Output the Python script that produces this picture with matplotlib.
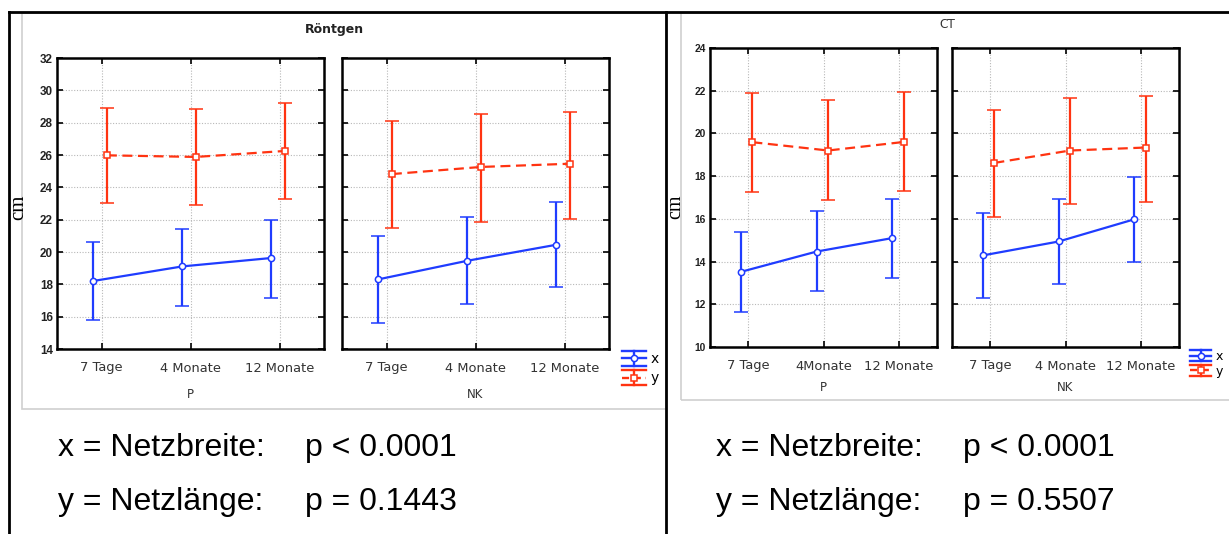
import matplotlib
matplotlib.use("Agg")
import matplotlib.pyplot as plt
from matplotlib.lines import Line2D
from matplotlib.patches import Rectangle
from matplotlib.legend_handler import HandlerBase

# ---------------- data ----------------
categories_rtg = ["7 Tage", "4 Monate", "12 Monate"]
categories_ct_p = ["7 Tage", "4Monate", "12 Monate"]
categories_ct_nk = ["7 Tage", "4 Monate", "12 Monate"]
groups = ["P", "NK"]

# Röntgen
rtg_p_x_mean = [18.21, 19.11, 19.63]
rtg_p_x_low = [15.77, 16.64, 17.18]
rtg_p_x_high = [20.60, 21.44, 21.98]
rtg_p_y_mean = [25.98, 25.88, 26.25]
rtg_p_y_low = [23.01, 22.89, 23.26]
rtg_p_y_high = [28.93, 28.85, 29.20]

rtg_nk_x_mean = [18.31, 19.46, 20.45]
rtg_nk_x_low = [15.63, 16.80, 17.81]
rtg_nk_x_high = [20.97, 22.14, 23.11]
rtg_nk_y_mean = [24.82, 25.26, 25.46]
rtg_nk_y_low = [21.48, 21.88, 22.04]
rtg_nk_y_high = [28.08, 28.52, 28.68]

# CT
ct_p_x_mean = [13.52, 14.47, 15.10]
ct_p_x_low = [11.66, 12.61, 13.25]
ct_p_x_high = [15.38, 16.37, 16.95]
ct_p_y_mean = [19.59, 19.20, 19.60]
ct_p_y_low = [17.26, 16.88, 17.31]
ct_p_y_high = [21.90, 21.56, 21.94]

ct_nk_x_mean = [14.29, 14.94, 15.98]
ct_nk_x_low = [12.30, 12.94, 13.99]
ct_nk_x_high = [16.29, 16.93, 17.96]
ct_nk_y_mean = [18.62, 19.20, 19.34]
ct_nk_y_low = [16.10, 16.71, 16.79]
ct_nk_y_high = [21.12, 21.65, 21.76]

rtg_yticks = [14, 16, 18, 20, 22, 24, 26, 28, 30, 32]
ct_yticks = [10, 12, 14, 16, 18, 20, 22, 24]

stats_left = [("x = Netzbreite:", "p < 0.0001"), ("y = Netzlänge:", "p = 0.1443")]
stats_right = [("x = Netzbreite:", "p < 0.0001"), ("y = Netzlänge:", "p = 0.5507")]

BLUE = "#1f3cff"
RED = "#ff3311"

W, H = 1229, 534
fig = plt.figure(figsize=(W / 100, H / 100), dpi=100)


def fx(px):
    return px / W


def fy(py):
    return 1 - py / H


def make_ax(x0, x1, y0, y1):
    return fig.add_axes([fx(x0), fy(y1), fx(x1 - x0), (y1 - y0) / H])


def draw_panel(ax, cats, xm, xl, xh, ym, yl, yh, yticks, ylim, show_ylabels,
               ytick_fs, group, glabel_pad):
    pos = list(range(len(cats)))
    pos_x = [p - 0.09 for p in pos]
    pos_y = [p + 0.06 for p in pos]
    err_x = [[m - l for m, l in zip(xm, xl)], [h - m for m, h in zip(xm, xh)]]
    err_y = [[m - l for m, l in zip(ym, yl)], [h - m for m, h in zip(ym, yh)]]
    ax.errorbar(pos_x, xm, yerr=err_x, color=BLUE, lw=1.6, elinewidth=1.6,
                capsize=5, capthick=1.6, marker="o", ms=4.5, mfc="white",
                mec=BLUE, mew=1.1, zorder=3)
    eb = ax.errorbar(pos_y, ym, yerr=err_y, color=RED, lw=1.6, elinewidth=1.6,
                     capsize=5, capthick=1.6, marker="s", ms=4.5, mfc="white",
                     mec=RED, mew=1.1, zorder=3)
    eb[0].set_linestyle((0, (4.5, 2.5)))
    ax.set_xlim(-0.5, len(cats) - 0.5)
    ax.set_ylim(*ylim)
    ax.set_yticks(yticks)
    ax.set_xticks(pos)
    ax.set_xticklabels(cats, fontsize=9.4, color="#333333", family="DejaVu Sans")
    if show_ylabels:
        ax.set_yticklabels([str(t) for t in yticks], fontsize=ytick_fs,
                           family="Liberation Sans", fontweight="bold",
                           color="#222222")
    else:
        ax.set_yticklabels([])
    ax.tick_params(direction="in", length=4, width=1.2, top=True, right=True,
                   pad=9)
    ax.tick_params(axis="y", pad=3)
    ax.grid(True, color="#b8b8b8", linestyle=(0, (1, 1.5)), lw=0.8)
    for s in ax.spines.values():
        s.set_linewidth(1.8)
    ax.set_xlabel(group, fontsize=8.5, color="#333333", labelpad=glabel_pad)


# ---------------- Röntgen ----------------
ax1 = make_ax(57, 324, 58, 349)
draw_panel(ax1, categories_rtg, rtg_p_x_mean, rtg_p_x_low, rtg_p_x_high,
           rtg_p_y_mean, rtg_p_y_low, rtg_p_y_high, rtg_yticks, (14, 32),
           True, 8.4, groups[0], 10)
ax2 = make_ax(342, 609, 58, 349)
draw_panel(ax2, categories_rtg, rtg_nk_x_mean, rtg_nk_x_low, rtg_nk_x_high,
           rtg_nk_y_mean, rtg_nk_y_low, rtg_nk_y_high, rtg_yticks, (14, 32),
           False, 8.4, groups[1], 10)

# ---------------- CT ----------------
ax3 = make_ax(710, 937, 48, 347)
draw_panel(ax3, categories_ct_p, ct_p_x_mean, ct_p_x_low, ct_p_x_high,
           ct_p_y_mean, ct_p_y_low, ct_p_y_high, ct_yticks, (10, 24),
           True, 7.4, groups[0], 6)
ax4 = make_ax(952, 1179, 48, 347)
draw_panel(ax4, categories_ct_nk, ct_nk_x_mean, ct_nk_x_low, ct_nk_x_high,
           ct_nk_y_mean, ct_nk_y_low, ct_nk_y_high, ct_yticks, (10, 24),
           False, 7.4, groups[1], 6)

# titles and y labels
fig.text(fx(334), fy(30), "Röntgen", ha="center", va="center", fontsize=9,
         fontweight="bold", color="#222222")
fig.text(fx(947), fy(25), "CT", ha="center", va="center", fontsize=8.7,
         color="#333333")
fig.text(fx(19), fy(207), "cm", ha="center", va="center", rotation=90,
         fontsize=15, family="Liberation Serif")
fig.text(fx(676), fy(207), "cm", ha="center", va="center", rotation=90,
         fontsize=14.5, family="Liberation Serif")


# ---------------- legend ----------------
class HandlerIcon(HandlerBase):
    def __init__(self, color, marker, dashed, half_px):
        super().__init__()
        self.color = color
        self.marker = marker
        self.dashed = dashed
        self.half_px = half_px

    def create_artists(self, legend, orig_handle, xdescent, ydescent, width,
                       height, fontsize, trans):
        x0, x1 = -xdescent, -xdescent + width
        xc = (x0 + x1) / 2
        yc = -ydescent + height / 2
        d = self.half_px * 72 / 100.0  # in points
        arts = []
        for yy in (yc - d, yc + d):
            arts.append(Line2D([x0, x1], [yy, yy], color=self.color, lw=1.7))
        arts.append(Line2D([xc, xc], [yc - d, yc + d], color=self.color, lw=1.7))
        mid = Line2D([x0, x1], [yc, yc], color=self.color, lw=1.7,
                     linestyle=(0, (3, 2)) if self.dashed else "-")
        arts.append(mid)
        arts.append(Line2D([xc], [yc], color=self.color, marker=self.marker,
                           ms=4.5, mfc="white", mec=self.color, mew=1.1, lw=0))
        for a in arts:
            a.set_transform(trans)
        return arts


def add_legend(x_px, y_px, fs, hl, half_px, ls):
    hx = Line2D([], [], color=BLUE)
    hy = Line2D([], [], color=RED)
    fig.legend([hx, hy], ["x", "y"], loc="upper left",
               bbox_to_anchor=(fx(x_px), fy(y_px)), frameon=False,
               fontsize=fs, handlelength=hl, handleheight=1.0,
               handletextpad=0.35, labelspacing=ls, borderpad=0,
               borderaxespad=0,
               handler_map={hx: HandlerIcon(BLUE, "o", False, half_px),
                            hy: HandlerIcon(RED, "s", True, half_px)})


add_legend(622, 352, 10, 1.73, 7.3, 0.38)
add_legend(1190, 350, 9, 1.68, 5.5, 0.12)

# ---------------- frames ----------------
fig.add_artist(Rectangle((fx(22), fy(409)), fx(666 - 22), (409 - 13) / H,
                         transform=fig.transFigure, fill=False,
                         ec="#cfcfcf", lw=1.2))
fig.add_artist(Rectangle((fx(681), fy(400)), fx(1240 - 681), (400 - 13) / H,
                         transform=fig.transFigure, fill=False,
                         ec="#cfcfcf", lw=1.2))
fig.add_artist(Line2D([fx(9), 1], [fy(12), fy(12)], transform=fig.transFigure,
                      color="black", lw=2))
fig.add_artist(Line2D([fx(9), fx(9)], [0, fy(12)], transform=fig.transFigure,
                      color="black", lw=2))
fig.add_artist(Line2D([fx(666), fx(666)], [0, fy(12)], transform=fig.transFigure,
                      color="black", lw=2))

# ---------------- stats text ----------------
for (lab, p), ypx in zip(stats_left, (448, 502)):
    fig.text(fx(58), fy(ypx), lab, ha="left", va="center", fontsize=23,
             family="Liberation Sans")
    fig.text(fx(305), fy(ypx), p, ha="left", va="center", fontsize=23,
             family="Liberation Sans")
for (lab, p), ypx in zip(stats_right, (448, 502)):
    fig.text(fx(716), fy(ypx), lab, ha="left", va="center", fontsize=23,
             family="Liberation Sans")
    fig.text(fx(963), fy(ypx), p, ha="left", va="center", fontsize=23,
             family="Liberation Sans")

fig.savefig("out.png", dpi=100)
